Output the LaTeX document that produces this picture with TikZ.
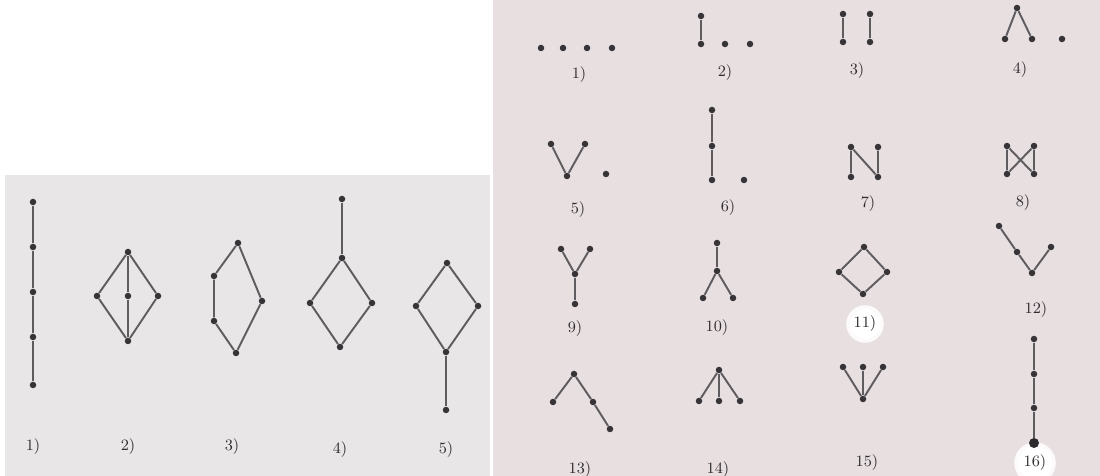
\documentclass[tikz,border=0pt]{standalone}
\usepackage{xcolor}
\usepackage{tikz}
\definecolor{inkgrey}{RGB}{55, 52, 55}
\definecolor{edgegrey}{RGB}{95, 92, 95}
\definecolor{leftpage}{RGB}{233, 230, 232}
\definecolor{rightpage}{RGB}{232, 223, 225}

\begin{document}
\begin{tikzpicture}[
    x=0.2mm, y=-0.2mm,
    dot/.style={circle, fill=inkgrey, inner sep=0pt, minimum size=1.3mm},
    bigdot/.style={circle, fill=inkgrey!80!black, inner sep=0pt, minimum size=2mm},
    edge/.style={draw=edgegrey, line width=1.1pt},
    lbl/.style={font=\small, text=inkgrey!85!black},
    glow/.style={fill=white, draw=white!85!rightpage, line width=2pt}
]
\useasboundingbox (0,0) rectangle (1100,476);

% Page backgrounds
\fill[leftpage] (5,175) rectangle (490,476);
\fill[rightpage] (493,0) rectangle (1100,476);

% ---------- Left page ----------
% 1) chain of five
\node[dot] (l1a) at (33,202) {};
\node[dot] (l1b) at (33,247) {};
\node[dot] (l1c) at (33,292) {};
\node[dot] (l1d) at (33,337) {};
\node[dot] (l1e) at (33,385) {};
\draw[edge] (l1a) -- (l1b) -- (l1c) -- (l1d) -- (l1e);
\node[lbl] (l1) at (33,447) {1)};

% 2) diamond with middle element
\node[dot] (l2t) at (128,252) {};
\node[dot] (l2l) at (97,296) {};
\node[dot] (l2m) at (128,296) {};
\node[dot] (l2r) at (158,296) {};
\node[dot] (l2b) at (128,341) {};
\draw[edge] (l2t) -- (l2l) -- (l2b) -- (l2r) -- (l2t);
\draw[edge] (l2t) -- (l2m) -- (l2b);
\node[lbl] (l2) at (128,447) {2)};

% 3) pentagon
\node[dot] (l3t) at (238,243) {};
\node[dot] (l3u) at (214,276) {};
\node[dot] (l3d) at (214,321) {};
\node[dot] (l3b) at (236,353) {};
\node[dot] (l3r) at (262,301) {};
\draw[edge] (l3t) -- (l3u) -- (l3d) -- (l3b) -- (l3r) -- (l3t);
\node[lbl] (l3) at (232,447) {3)};

% 4) diamond with top tail
\node[dot] (l4x) at (342,199) {};
\node[dot] (l4t) at (342,258) {};
\node[dot] (l4l) at (310,303) {};
\node[dot] (l4r) at (372,303) {};
\node[dot] (l4b) at (340,347) {};
\draw[edge] (l4x) -- (l4t);
\draw[edge] (l4t) -- (l4l) -- (l4b) -- (l4r) -- (l4t);
\node[lbl] (l4) at (340,450) {4)};

% 5) diamond with bottom tail
\node[dot] (l5t) at (447,263) {};
\node[dot] (l5l) at (416,306) {};
\node[dot] (l5r) at (478,306) {};
\node[dot] (l5b) at (446,352) {};
\node[dot] (l5x) at (446,410) {};
\draw[edge] (l5t) -- (l5l) -- (l5b) -- (l5r) -- (l5t);
\draw[edge] (l5b) -- (l5x);
\node[lbl] (l5) at (446,450) {5)};

% ---------- Right page ----------
% Row 1
\node[dot] (r1a) at (541,48) {};
\node[dot] (r1b) at (563,48) {};
\node[dot] (r1c) at (587,48) {};
\node[dot] (r1d) at (612,48) {};
\node[lbl] (r1) at (579,75) {1)};

\node[dot] (r2a) at (701,16) {};
\node[dot] (r2b) at (701,44) {};
\node[dot] (r2c) at (725,44) {};
\node[dot] (r2d) at (750,44) {};
\draw[edge] (r2a) -- (r2b);
\node[lbl] (r2) at (725,73) {2)};

\node[dot] (r3a) at (843,14) {};
\node[dot] (r3b) at (843,42) {};
\node[dot] (r3c) at (870,14) {};
\node[dot] (r3d) at (870,42) {};
\draw[edge] (r3a) -- (r3b);
\draw[edge] (r3c) -- (r3d);
\node[lbl] (r3) at (857,71) {3)};

\node[dot] (r4a) at (1017,8) {};
\node[dot] (r4b) at (1005,39) {};
\node[dot] (r4c) at (1032,39) {};
\node[dot] (r4d) at (1062,39) {};
\draw[edge] (r4b) -- (r4a) -- (r4c);
\node[lbl] (r4) at (1020,70) {4)};

% Row 2
\node[dot] (r5a) at (551,144) {};
\node[dot] (r5b) at (585,144) {};
\node[dot] (r5c) at (567,176) {};
\node[dot] (r5d) at (606,174) {};
\draw[edge] (r5a) -- (r5c) -- (r5b);
\node[lbl] (r5) at (578,210) {5)};

\node[dot] (r6a) at (712,110) {};
\node[dot] (r6b) at (712,146) {};
\node[dot] (r6c) at (712,180) {};
\node[dot] (r6d) at (744,180) {};
\draw[edge] (r6a) -- (r6b) -- (r6c);
\node[lbl] (r6) at (728,208) {6)};

\node[dot] (r7a) at (851,147) {};
\node[dot] (r7b) at (878,147) {};
\node[dot] (r7c) at (851,177) {};
\node[dot] (r7d) at (878,177) {};
\draw[edge] (r7c) -- (r7a) -- (r7d) -- (r7b);
\node[lbl] (r7) at (868,204) {7)};

\node[dot] (r8a) at (1007,146) {};
\node[dot] (r8b) at (1034,146) {};
\node[dot] (r8c) at (1007,174) {};
\node[dot] (r8d) at (1034,174) {};
\draw[edge] (r8a) -- (r8c) -- (r8b) -- (r8d) -- (r8a);
\node[lbl] (r8) at (1023,203) {8)};

% Row 3
\node[dot] (r9a) at (561,249) {};
\node[dot] (r9b) at (590,249) {};
\node[dot] (r9c) at (575,274) {};
\node[dot] (r9d) at (575,304) {};
\draw[edge] (r9a) -- (r9c) -- (r9b);
\draw[edge] (r9c) -- (r9d);
\node[lbl] (r9) at (575,329) {9)};

\node[dot] (r10a) at (717,243) {};
\node[dot] (r10b) at (717,271) {};
\node[dot] (r10c) at (703,298) {};
\node[dot] (r10d) at (733,298) {};
\draw[edge] (r10a) -- (r10b);
\draw[edge] (r10c) -- (r10b) -- (r10d);
\node[lbl] (r10) at (717,328) {10)};

\node[dot] (r11a) at (864,247) {};
\node[dot] (r11b) at (839,272) {};
\node[dot] (r11c) at (887,272) {};
\node[dot] (r11d) at (863,294) {};
\draw[edge] (r11a) -- (r11b) -- (r11d) -- (r11c) -- (r11a);
\fill[glow] (865,324) circle (17);
\node[lbl] (r11) at (865,324) {11)};

\node[dot] (r12a) at (999,226) {};
\node[dot] (r12b) at (1017,252) {};
\node[dot] (r12c) at (1032,273) {};
\node[dot] (r12d) at (1051,247) {};
\draw[edge] (r12a) -- (r12b) -- (r12c) -- (r12d);
\node[lbl] (r12) at (1036,310) {12)};

% Row 4
\node[dot] (r13a) at (574,374) {};
\node[dot] (r13b) at (553,402) {};
\node[dot] (r13c) at (593,402) {};
\node[dot] (r13d) at (610,429) {};
\draw[edge] (r13b) -- (r13a) -- (r13c) -- (r13d);
\node[lbl] (r13) at (580,470) {13)};

\node[dot] (r14a) at (719,370) {};
\node[dot] (r14b) at (699,401) {};
\node[dot] (r14c) at (719,401) {};
\node[dot] (r14d) at (740,401) {};
\draw[edge] (r14a) -- (r14b);
\draw[edge] (r14a) -- (r14c);
\draw[edge] (r14a) -- (r14d);
\node[lbl] (r14) at (718,470) {14)};

\node[dot] (r15a) at (843,367) {};
\node[dot] (r15b) at (863,367) {};
\node[dot] (r15c) at (883,367) {};
\node[dot] (r15d) at (863,399) {};
\draw[edge] (r15a) -- (r15d);
\draw[edge] (r15b) -- (r15d);
\draw[edge] (r15c) -- (r15d);
\node[lbl] (r15) at (867,463) {15)};

\fill[glow] (1035,463) circle (19);
\node[dot] (r16a) at (1034,339) {};
\node[dot] (r16b) at (1034,374) {};
\node[dot] (r16c) at (1034,408) {};
\node[bigdot] (r16d) at (1034,443) {};
\draw[edge] (r16a) -- (r16b) -- (r16c) -- (r16d);
\node[lbl] (r16) at (1035,463) {16)};

\end{tikzpicture}
\end{document}
